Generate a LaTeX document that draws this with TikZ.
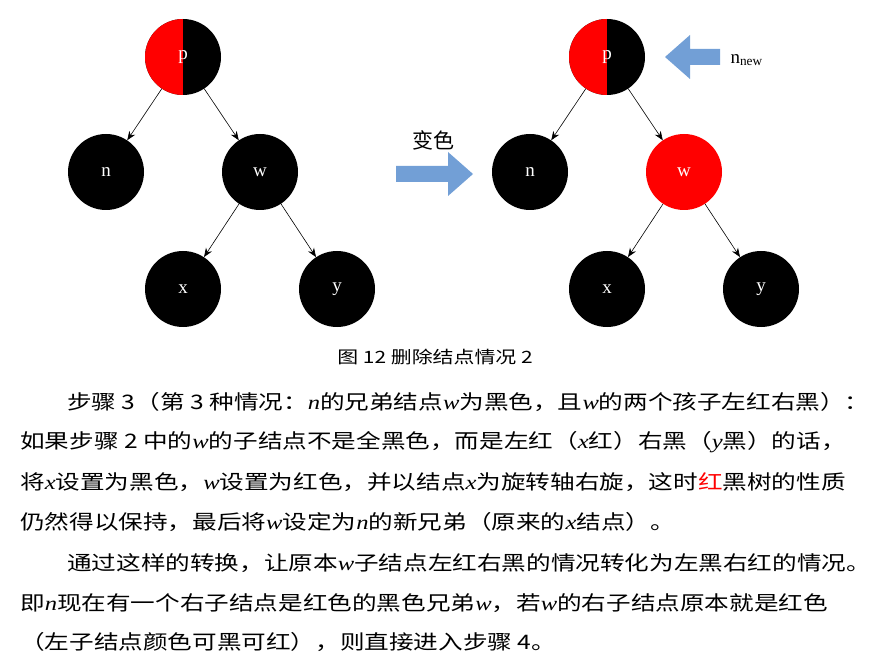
\documentclass[tikz,border=0pt]{standalone}
\usepackage{fontspec}
\setmainfont{Noto Sans CJK SC}
\newfontfamily\lserif{Liberation Serif}
\newcommand{\vv}[1]{{\lserif\itshape #1}}
\newcommand{\wide}[1]{\scalebox{1.23}[1]{#1}}
\usetikzlibrary{arrows.meta}
\definecolor{arrowblue}{RGB}{114,159,214}

\tikzset{
  tnode/.style={circle, fill=black, minimum size=76pt, inner sep=0pt,
    text=white, font=\lserif\fontsize{19}{19}\selectfont},
  rnode/.style={tnode, fill=red},
  halfnode/.style={tnode, path picture={\fill[red] (path picture bounding box.north west) rectangle (path picture bounding box.south);}},
  edge/.style={-{Stealth[length=9pt,width=7pt]}, line width=0.6pt},
  txt/.style={anchor=west, inner sep=0pt, font=\fontsize{20}{20}\selectfont}
}

\begin{document}
\begin{tikzpicture}[x=1pt,y=-1pt]
\useasboundingbox (0,0) rectangle (870,660);

% left tree
\node[halfnode] (p) at (183,57) {p};
\node[tnode] (n) at (106,172) {n};
\node[tnode] (w) at (260,172) {w};
\node[tnode] (x) at (183,289) {x};
\node[tnode] (y) at (337,289) {y};
\draw[edge] (p) -- (n);
\draw[edge] (p) -- (w);
\draw[edge] (w) -- (x);
\draw[edge] (w) -- (y);

% recolouring
\node[font=\fontsize{21}{21}\selectfont] (recol) at (433,140) {变色};
\fill[arrowblue] (396,166) -- (448,166) -- (448,152) -- (473,174) -- (448,196) -- (448,182) -- (396,182) -- cycle;

% right tree
\node[halfnode] (p-1) at (607,57) {p};
\node[tnode] (n-1) at (530,172) {n};
\node[rnode] (w-1) at (684,172) {w};
\node[tnode] (x-1) at (607,289) {x};
\node[tnode] (y-1) at (761,289) {y};
\draw[edge] (p-1) -- (n-1);
\draw[edge] (p-1) -- (w-1);
\draw[edge] (w-1) -- (x-1);
\draw[edge] (w-1) -- (y-1);

\fill[arrowblue] (720,49) -- (690,49) -- (690,35) -- (665,57) -- (690,79) -- (690,65) -- (720,65) -- cycle;
\node[anchor=west, font=\lserif\fontsize{19}{19}\selectfont] (nnew) at (727,60) {n\textsubscript{new}};

% caption and text
\node[font=\fontsize{17}{17}\selectfont] (cap) at (435,357) {\wide{图 12 删除结点情况 2}};
\node[txt] (l1) at (67,402) {\wide{步骤 3（第 3 种情况：\vv{n}的兄弟结点\vv{w}为黑色，且\vv{w}的两个孩子左红右黑）：}};
\node[txt] (l2) at (20,442) {\wide{如果步骤 2 中的\vv{w}的子结点不是全黑色，而是左红（\vv{x}红）右黑（\vv{y}黑）的话，}};
\node[txt] (l3) at (20,482) {\wide{将\vv{x}设置为黑色，\vv{w}设置为红色，并以结点\vv{x}为旋转轴右旋，这时\textcolor{red}{红}黑树的性质}};
\node[txt] (l4) at (20,522) {\wide{仍然得以保持，最后将\vv{w}设定为\vv{n}的新兄弟（原来的\vv{x}结点）。}};
\node[txt] (l5) at (67,563) {\wide{通过这样的转换，让原本\vv{w}子结点左红右黑的情况转化为左黑右红的情况。}};
\node[txt] (l6) at (20,603) {\wide{即\vv{n}现在有一个右子结点是红色的黑色兄弟\vv{w}，若\vv{w}的右子结点原本就是红色}};
\node[txt] (l7) at (20,642) {\wide{（左子结点颜色可黑可红），则直接进入步骤 4。}};
\end{tikzpicture}
\end{document}
